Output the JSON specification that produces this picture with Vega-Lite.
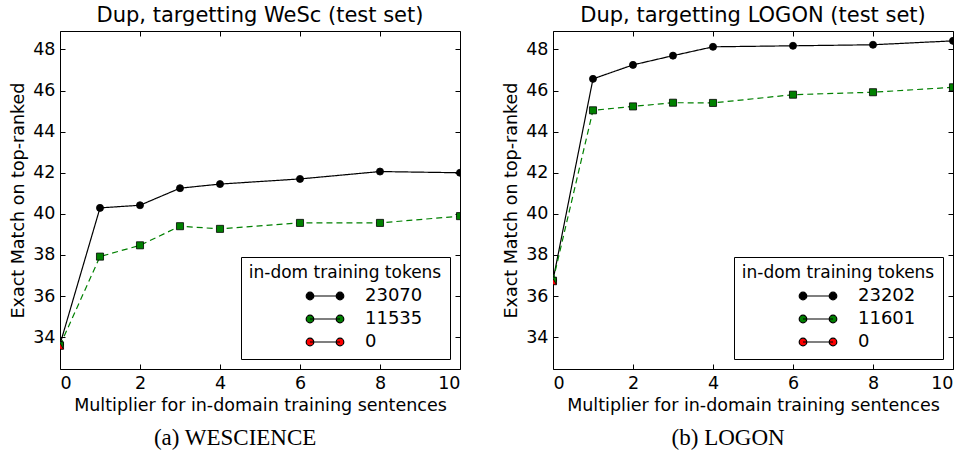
{
  "$schema": "https://vega.github.io/schema/vega-lite/v6.json",
  "padding": {"left": 9, "top": 4, "right": 0, "bottom": 0},
  "config": {
    "font": "DejaVu Sans",
    "view": {"stroke": "black", "strokeWidth": 1},
    "axis": {"domain": false, "grid": false, "tickColor": "black", "tickSize": -5, "tickWidth": 1, "labelFontSize": 17.5, "labelColor": "black", "labelPadding": 10, "titleFontSize": 17.5, "titleFontWeight": "normal", "titleColor": "black", "titlePadding": 5},
    "title": {"fontSize": 21, "fontWeight": "normal", "color": "black", "offset": 5},
    "legend": {"orient": "bottom-right", "offset": 10, "fillColor": "white", "strokeColor": "black", "padding": 8, "titleFontSize": 17, "titleFontWeight": "normal", "titleColor": "black", "titleAnchor": "middle", "titlePadding": 3, "titleLimit": 400, "labelFontSize": 18, "labelColor": "black", "labelLimit": 300, "symbolSize": 400, "symbolOffset": 47, "labelOffset": 29, "rowPadding": 3, "symbolStrokeWidth": 1.2, "symbolStrokeColor": "black",
      "symbolType": "M-1.5,0H1.5M-1.12,0A0.38,0.38,0,1,1,-1.88,0A0.38,0.38,0,1,1,-1.12,0ZM1.88,0A0.38,0.38,0,1,1,1.12,0A0.38,0.38,0,1,1,1.88,0Z"}
  },
  "datasets": {
    "wesc": [
      {"series": "23070", "x": 0, "y": 33.65}, {"series": "23070", "x": 1, "y": 40.29}, {"series": "23070", "x": 2, "y": 40.42}, {"series": "23070", "x": 3, "y": 41.25}, {"series": "23070", "x": 4, "y": 41.45}, {"series": "23070", "x": 6, "y": 41.7}, {"series": "23070", "x": 8, "y": 42.06}, {"series": "23070", "x": 10, "y": 42.0},
      {"series": "11535", "x": 0, "y": 33.6}, {"series": "11535", "x": 1, "y": 37.92}, {"series": "11535", "x": 2, "y": 38.47}, {"series": "11535", "x": 3, "y": 39.4}, {"series": "11535", "x": 4, "y": 39.27}, {"series": "11535", "x": 6, "y": 39.56}, {"series": "11535", "x": 8, "y": 39.56}, {"series": "11535", "x": 10, "y": 39.89},
      {"series": "0", "x": 0, "y": 33.56}
    ],
    "logon": [
      {"series": "23202", "x": 0, "y": 36.77}, {"series": "23202", "x": 1, "y": 46.57}, {"series": "23202", "x": 2, "y": 47.25}, {"series": "23202", "x": 3, "y": 47.7}, {"series": "23202", "x": 4, "y": 48.13}, {"series": "23202", "x": 6, "y": 48.18}, {"series": "23202", "x": 8, "y": 48.23}, {"series": "23202", "x": 10, "y": 48.42},
      {"series": "11601", "x": 0, "y": 36.75}, {"series": "11601", "x": 1, "y": 45.04}, {"series": "11601", "x": 2, "y": 45.23}, {"series": "11601", "x": 3, "y": 45.41}, {"series": "11601", "x": 4, "y": 45.4}, {"series": "11601", "x": 6, "y": 45.8}, {"series": "11601", "x": 8, "y": 45.92}, {"series": "11601", "x": 10, "y": 46.16},
      {"series": "0", "x": 0, "y": 36.7}
    ]
  },
  "hconcat": [
    {
      "title": {"text": "(a) WESCIENCE", "orient": "bottom", "font": "Liberation Serif", "fontSize": 23, "fontWeight": "normal", "anchor": "middle", "offset": 12},
      "resolve": {"scale": {"fill": "independent", "stroke": "independent", "shape": "independent", "strokeDash": "independent"}, "legend": {"fill": "independent"}},
      "vconcat": [
        {
          "title": {"text": "Dup, targetting WeSc (test set)"},
          "width": 400, "height": 338,
          "data": {"name": "wesc"},
          "layer": [
            {
              "mark": {"type": "line", "strokeWidth": 1.2, "clip": true},
              "encoding": {
                "x": {"field": "x", "type": "quantitative", "scale": {"domain": [0, 10], "nice": false, "zero": false}, "axis": {"orient": "bottom", "values": [0, 2, 4, 6, 8, 10], "title": "Multiplier for in-domain training sentences"}},
                "y": {"field": "y", "type": "quantitative", "scale": {"domain": [32.45, 48.9], "nice": false, "zero": false}, "axis": {"orient": "left", "values": [34, 36, 38, 40, 42, 44, 46, 48], "title": "Exact Match on top-ranked"}},
                "stroke": {"field": "series", "type": "nominal", "scale": {"domain": ["0", "11535", "23070"], "range": ["#ff0000", "#008000", "#000000"]}, "legend": null},
                "strokeDash": {"field": "series", "type": "nominal", "scale": {"domain": ["0", "11535", "23070"], "range": [[5, 2, 1, 2], [6, 4], [1, 0]]}, "legend": null}
              }
            },
            {
              "mark": {"type": "point", "filled": true, "size": 50, "stroke": "black", "strokeWidth": 0.8, "opacity": 1, "clip": true},
              "encoding": {
                "x": {"field": "x", "type": "quantitative", "axis": {"orient": "top", "labels": false, "title": null, "values": [0, 2, 4, 6, 8, 10]}},
                "y": {"field": "y", "type": "quantitative", "axis": {"orient": "right", "labels": false, "title": null, "values": [34, 36, 38, 40, 42, 44, 46, 48]}},
                "fill": {"field": "series", "type": "nominal", "scale": {"domain": ["23070", "11535", "0"], "range": ["#000000", "#008000", "#ff0000"]},
                  "legend": {"title": "in-dom training tokens", "symbolType": "M-1.5,0H1.5M-1.12,0A0.38,0.38,0,1,1,-1.88,0A0.38,0.38,0,1,1,-1.12,0ZM1.88,0A0.38,0.38,0,1,1,1.12,0A0.38,0.38,0,1,1,1.88,0Z"}},
                "shape": {"field": "series", "type": "nominal", "scale": {"domain": ["0", "11535", "23070"], "range": ["triangle-up", "square", "circle"]}, "legend": null}
              }
            }
          ],
          "resolve": {"axis": {"x": "independent", "y": "independent"}}
        }
      ]
    },
    {
      "title": {"text": "(b) LOGON", "orient": "bottom", "font": "Liberation Serif", "fontSize": 23, "fontWeight": "normal", "anchor": "middle", "offset": 12},
      "resolve": {"scale": {"fill": "independent", "stroke": "independent", "shape": "independent", "strokeDash": "independent"}, "legend": {"fill": "independent"}},
      "vconcat": [
        {
          "title": {"text": "Dup, targetting LOGON (test set)"},
          "width": 400, "height": 338,
          "data": {"name": "logon"},
          "layer": [
            {
              "mark": {"type": "line", "strokeWidth": 1.2, "clip": true},
              "encoding": {
                "x": {"field": "x", "type": "quantitative", "scale": {"domain": [0, 10], "nice": false, "zero": false}, "axis": {"orient": "bottom", "values": [0, 2, 4, 6, 8, 10], "title": "Multiplier for in-domain training sentences"}},
                "y": {"field": "y", "type": "quantitative", "scale": {"domain": [32.45, 48.9], "nice": false, "zero": false}, "axis": {"orient": "left", "values": [34, 36, 38, 40, 42, 44, 46, 48], "title": "Exact Match on top-ranked"}},
                "stroke": {"field": "series", "type": "nominal", "scale": {"domain": ["0", "11601", "23202"], "range": ["#ff0000", "#008000", "#000000"]}, "legend": null},
                "strokeDash": {"field": "series", "type": "nominal", "scale": {"domain": ["0", "11601", "23202"], "range": [[5, 2, 1, 2], [6, 4], [1, 0]]}, "legend": null}
              }
            },
            {
              "mark": {"type": "point", "filled": true, "size": 50, "stroke": "black", "strokeWidth": 0.8, "opacity": 1, "clip": true},
              "encoding": {
                "x": {"field": "x", "type": "quantitative", "axis": {"orient": "top", "labels": false, "title": null, "values": [0, 2, 4, 6, 8, 10]}},
                "y": {"field": "y", "type": "quantitative", "axis": {"orient": "right", "labels": false, "title": null, "values": [34, 36, 38, 40, 42, 44, 46, 48]}},
                "fill": {"field": "series", "type": "nominal", "scale": {"domain": ["23202", "11601", "0"], "range": ["#000000", "#008000", "#ff0000"]},
                  "legend": {"title": "in-dom training tokens", "symbolType": "M-1.5,0H1.5M-1.12,0A0.38,0.38,0,1,1,-1.88,0A0.38,0.38,0,1,1,-1.12,0ZM1.88,0A0.38,0.38,0,1,1,1.12,0A0.38,0.38,0,1,1,1.88,0Z"}},
                "shape": {"field": "series", "type": "nominal", "scale": {"domain": ["0", "11601", "23202"], "range": ["triangle-up", "square", "circle"]}, "legend": null}
              }
            }
          ],
          "resolve": {"axis": {"x": "independent", "y": "independent"}}
        }
      ]
    }
  ],
  "spacing": 41,
  "resolve": {"scale": {"fill": "independent", "stroke": "independent", "shape": "independent", "strokeDash": "independent"}, "legend": {"fill": "independent"}}
}
